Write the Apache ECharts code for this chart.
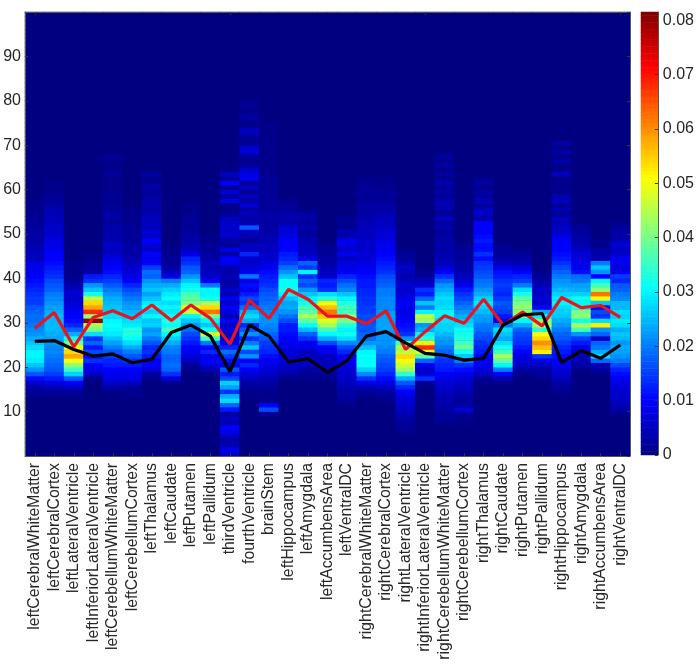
<!DOCTYPE html>
<html><head><meta charset="utf-8">
<style>html,body{margin:0;padding:0;background:#fff}#c{width:697px;height:671px}</style>
<script src="https://cdn.jsdelivr.net/npm/echarts@6/dist/echarts.min.js"></script>
</head><body><div id="c"></div>
<script>
const regions = ['leftCerebralWhiteMatter','leftCerebralCortex','leftLateralVentricle','leftInferiorLateralVentricle','leftCerebellumWhiteMatter','leftCerebellumCortex','leftThalamus','leftCaudate','leftPutamen','leftPallidum','thirdVentricle','fourthVentricle','brainStem','leftHippocampus','leftAmygdala','leftAccumbensArea','leftVentralDC','rightCerebralWhiteMatter','rightCerebralCortex','rightLateralVentricle','rightInferiorLateralVentricle','rightCerebellumWhiteMatter','rightCerebellumCortex','rightThalamus','rightCaudate','rightPutamen','rightPallidum','rightHippocampus','rightAmygdala','rightAccumbensArea','rightVentralDC'];
const redLine = [28.8,32.3,24.6,31.2,32.7,30.9,34,30.5,34,31,25.2,35.1,31,37.5,35.3,31.5,31.5,29.8,32.7,24,28,31.6,29.9,35.3,29.5,32.4,29.3,35.7,33.4,33.9,31.2];
const blackLine = [25.8,26,24,22.5,23,21,21.8,27.8,29.5,27,19,29.5,27,21.2,21.9,18.8,21.5,27,28,25.5,23.1,22.7,21.6,22,29.5,31.8,32.1,21.1,23.7,22,25];
// first age row of each column's array below; values are in thousandths
const firstRow = [14,14,14,18,15,14,18,17,20,19,1,14,10,18,18,18,12,14,13,6,17,8,8,17,17,19,18,15,20,19,10];
const c01 = [1,2,3,6,11,17,22,26,29,30,30,28,26,24,22,21,20,19,19,18,17,15,15,14,13,12,11,10,9,8,8,5,5,4,4,3,3,3,2,2,2,1,1,1,1];
const c02 = [1,2,4,8,12,15,17,18,19,20,21,21,22,23,24,25,25,25,25,24,23,22,21,20,18,17,16,14,13,12,11,10,10,9,8,8,7,6,6,5,5,4,4,3,2,2,1,1,1];
const c03 = [1,2,6,10,17,27,35,42,50,58,54,50,40,32,24,18,13,11,10,9,8,7,6,7,5,4,2,1,1,1,1];
const c04 = [1,6,8,10,14,11,16,12,18,14,28,40,44,80,42,68,58,54,46,32,26,22,14,12,3,2,2,1,1];
const c05 = [1,3,6,8,9,10,12,13,15,17,20,23,26,29,30,31,30,28,27,26,25,24,22,20,17,15,13,11,10,9,8,6,5,6,4,4,3,4,2,3,3,2,2,1,2,1,1,1,1,2,1,1,1,2];
const c06 = [1,1,2,5,8,9,10,12,14,17,20,24,28,31,33,33,29,28,26,25,23,22,20,18,16,13,10,8,7,6,5,4,3,3,3,2,2,2,2,1,1,1,1];
const c07 = [1,3,7,10,9,12,14,13,17,20,23,22,27,26,30,27,31,29,26,23,26,24,22,18,19,15,10,9,10,6,7,10,6,7,5,5,5,4,3,4,3,3,2,3,2,1,3];
const c08 = [1,7,14,18,19,18,18,20,21,24,27,30,36,31,33,32,29,30,28,31,29,27,24,20,8,5,3,2,2,1,1];
const c09 = [1,2,5,7,9,10,12,14,16,19,22,26,30,46,50,40,38,36,32,30,26,22,18,17,14,13,8,5,4,3,3,2,2,2,2,1,1,1];
const c10 = [1,4,7,10,8,13,11,20,35,48,32,26,30,40,62,54,44,32,30,30,20,10,6,5,4,5,3,3,2,2,1,1];
const c11 = [6,8,4,3,5,9,10,4,5,3,12,18,28,24,14,23,27,16,12,17,9,11,15,19,13,9,7,5,8,6,9,5,7,10,6,9,4,6,3,3,5,3,4,9,10,3,8,2,3,6,6,6,6,5,2,1,1,8,2,7,2,10,2,5,1];
const c12 = [1,1,2,3,5,7,10,13,9,22,16,26,20,14,22,17,13,24,28,25,19,14,16,12,9,11,8,20,9,7,6,6,13,5,6,2,4,5,17,4,3,5,3,7,3,5,2,5,2,9,8,6,2,1,2,7,6,2,1,4,5,1,2,3,1,1,2];
const c13 = [1,16,10,1,1,1,2,3,4,6,7,8,9,11,13,14,15,17,18,20,21,22,22,21,20,19,18,17,16,14,13,12,11,9,8,6,6,5,5,4,4,3,3,3,3,3,2,2,2,2,2,2,2,2,1,1,1,1,1,1,1,1,1,1,1,1];
const c14 = [1,3,5,6,7,7,7,8,9,10,11,12,12,16,19,22,24,23,26,30,32,31,31,26,22,19,15,13,12,10,10,10,8,7,7,3,4,3,2,2,1];
const c15 = [1,2,3,5,6,5,5,8,9,14,18,25,31,38,44,38,36,32,30,26,22,16,18,14,30,15,18,8,5,5,4,4,3,2,4,2,3,3,1];
const c16 = [1,2,4,5,5,5,8,10,16,24,30,36,44,48,55,62,56,50,34,28,14,12,13,6,5,4,3,3,2,2,1];
const c17 = [1,2,3,3,4,5,6,6,7,8,9,10,13,16,21,28,32,30,34,40,42,36,36,33,30,26,21,19,16,13,9,8,8,5,9,6,8,9,4,4,2,1,2];
const c18 = [1,2,4,8,14,21,27,31,31,31,30,26,22,19,18,17,17,16,16,15,15,14,14,13,13,12,12,11,10,9,8,7,7,6,6,6,5,5,5,4,4,3,3,3,2,2,2,2,1,1];
const c19 = [1,2,3,5,8,11,13,15,16,17,18,20,21,22,22,22,23,23,23,23,22,21,21,21,20,20,18,17,16,14,13,12,11,10,9,9,8,7,7,6,5,5,4,3,3,2,2,2,1,1,1];
const c20 = [1,2,2,3,4,5,6,7,8,10,13,17,24,34,43,47,50,54,46,44,36,22,14,12,11,10,9,8,9,10,8,7,6,7,5,4,5,6,4,2,2,1];
const c21 = [2,14,7,6,9,18,37,48,68,52,34,30,24,22,43,46,30,20,26,18,12,14,6,5,2,1];
const c22 = [1,2,2,3,3,4,4,5,6,7,8,10,12,13,14,16,18,20,22,23,25,27,27,28,30,30,28,27,28,26,24,22,18,14,10,7,5,4,4,3,4,3,3,2,4,2,5,2,3,4,4,2,3,2,4,1,3,1,3,1,3];
const c23 = [1,1,2,7,3,2,3,4,5,6,7,9,11,14,20,26,32,38,36,33,32,31,28,26,24,22,20,18,16,14,12,9,6,5,4,3,3,2,2,2,1];
const c24 = [1,2,5,7,9,10,10,12,13,14,16,17,19,20,22,23,25,27,29,27,24,22,20,19,17,16,15,14,11,14,11,11,12,11,10,10,10,3,6,5,2,5,2,3,1,3,1];
const c25 = [1,4,10,20,30,38,44,36,32,28,24,26,28,20,7,12,15,16,17,15,13,14,15,14,12,11,8,5,3,2,2,1];
const c26 = [1,3,5,7,8,10,12,14,15,16,18,24,30,38,42,42,40,38,32,28,20,15,13,10,7,4,3,2,1];
const c27 = [1,2,3,5,8,14,52,56,60,54,50,34,44,42,30,24,10,6,7,5,6,4,3,2,1];
const c28 = [1,2,3,5,6,7,9,10,11,12,13,15,17,18,20,22,24,26,27,28,30,29,27,25,23,22,20,18,16,14,12,11,10,10,10,8,6,6,4,5,2,4,2,5,4,1,1,1,1,5,1,1,3,1,3,1,3];
const c29 = [1,3,4,5,6,8,12,15,22,36,44,32,42,40,34,30,32,27,24,23,20,19,11,8,9,7,7,5,4,3,3,2,2];
const c30 = [1,3,4,18,28,24,20,18,5,18,22,52,28,14,16,10,26,50,62,42,36,30,10,22,26,20,4,3,3,1,1];
const c31 = [1,3,4,5,6,6,7,8,9,11,13,16,20,22,23,24,22,25,26,24,28,29,27,28,25,25,21,20,18,17,13,15,9,7,9,9,6,5,7,4,3,3,2,1];
const columns = [c01,c02,c03,c04,c05,c06,c07,c08,c09,c10,c11,c12,c13,c14,c15,c16,c17,c18,c19,c20,c21,c22,c23,c24,c25,c26,c27,c28,c29,c30,c31];
const ROWS = 100, COLOR_MAX = 0.0815;
const jet = ['#000080','#0000ff','#0080ff','#00ffff','#80ff80','#ffff00','#ff8000','#ff0000','#800000'];
const textColor = '#262626', font = 'Liberation Sans';

const rowNames = Array.from({length: ROWS}, (_, i) => String(i + 1));
const cells = [];
columns.forEach((col, x) => {
  for (let y = 0; y < ROWS; y++) {
    const v = col[y + 1 - firstRow[x]];
    cells.push([x, y, (v || 0) / 1000]);
  }
});
const rampLevels = Array.from({length: 128}, (_, i) => String(i));
const ramp = rampLevels.map((_, i) => [0, i, (i + 0.5) / 128 * COLOR_MAX]);

const chart = echarts.init(document.getElementById('c'), null, {renderer: 'canvas'});
const hiddenAxis = {show: false};
const tickStyle = {show: true, inside: true, length: 3, lineStyle: {color: '#333', width: 1}};
const lineStyle = {show: true, onZero: false, lineStyle: {color: '#555', width: 1}};
chart.setOption({
  animation: false,
  backgroundColor: '#fff',
  grid: [
    {left: 25, top: 12, width: 605, height: 444, show: true, backgroundColor: '#000080', borderWidth: 0},
    {left: 641, top: 12, width: 22, height: 443}
  ],
  visualMap: {show: false, min: 0, max: COLOR_MAX, seriesIndex: [0, 3], inRange: {color: jet}},
  xAxis: [
    {type: 'category', gridIndex: 0, data: regions, z: 5, axisLine: lineStyle,
     axisTick: Object.assign({alignWithLabel: true}, tickStyle),
     axisLabel: {rotate: 90, interval: 0, fontSize: 15.8, fontFamily: font, color: textColor, margin: 7}},
    {type: 'category', gridIndex: 0, position: 'top', data: regions, z: 5, axisLine: lineStyle,
     axisTick: Object.assign({alignWithLabel: true}, tickStyle), axisLabel: {show: false}},
    {type: 'category', gridIndex: 1, data: ['c'], show: false}
  ],
  yAxis: [
    Object.assign({type: 'category', gridIndex: 0, data: rowNames}, hiddenAxis),
    {type: 'value', gridIndex: 0, min: 0, max: 100, interval: 10, position: 'left', z: 5,
     splitLine: {show: false}, axisLine: lineStyle, axisTick: tickStyle,
     axisLabel: {fontSize: 16, fontFamily: font, color: textColor, margin: 4, padding: [2, 0, 0, 0], showMinLabel: false, showMaxLabel: false}},
    {type: 'value', gridIndex: 0, min: 0, max: 100, interval: 10, position: 'right', z: 5,
     splitLine: {show: false}, axisLine: lineStyle, axisTick: tickStyle, axisLabel: {show: false}},
    Object.assign({type: 'category', gridIndex: 1, data: rampLevels}, hiddenAxis),
    {type: 'value', gridIndex: 1, min: 0, max: COLOR_MAX, interval: 0.01, position: 'right', z: 5,
     splitLine: {show: false}, axisLine: lineStyle, axisTick: tickStyle,
     axisLabel: {fontSize: 16, fontFamily: font, color: textColor, margin: 5, padding: [3, 0, 0, 0], showMaxLabel: false,
       formatter: v => v === 0 ? '0' : v.toFixed(2)}}
  ],
  series: [
    {type: 'heatmap', xAxisIndex: 0, yAxisIndex: 0, data: cells, progressive: 0, z: 2, itemStyle: {borderWidth: 0}, emphasis: {disabled: true}},
    {type: 'line', xAxisIndex: 0, yAxisIndex: 1, data: redLine, z: 6, symbol: 'none', lineStyle: {color: '#e8141e', width: 3.2}},
    {type: 'line', xAxisIndex: 0, yAxisIndex: 1, data: blackLine, z: 7, symbol: 'none', lineStyle: {color: '#000', width: 3.2}},
    {type: 'heatmap', xAxisIndex: 2, yAxisIndex: 3, data: ramp, progressive: 0, z: 2, itemStyle: {borderWidth: 0}, emphasis: {disabled: true}}
  ]
});
</script></body></html>
